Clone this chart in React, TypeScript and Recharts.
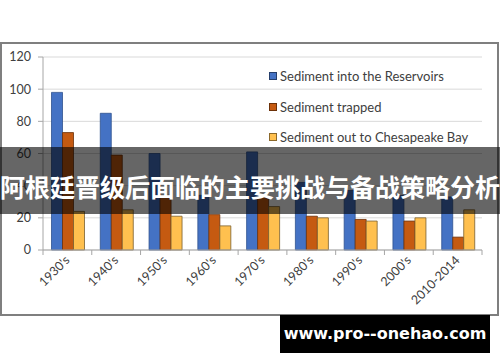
import React from 'react';
import { BarChart, Bar, XAxis, YAxis, CartesianGrid, Legend } from 'recharts';

const categories = ["1930's", "1940's", "1950's", "1960's", "1970's", "1980's", "1990's", "2000's", '2010-2014'];
const intoReservoirs = [98, 85, 60, 34, 61, 42, 37, 34, 33];
const trapped = [73, 59, 34, 22, 33, 21, 19, 18, 8];
const outToBay = [24, 25, 21, 15, 27, 20, 18, 20, 25];
const yTicks = [0, 20, 40, 60, 80, 100, 120];

const seriesNames = ['Sediment into the Reservoirs', 'Sediment trapped', 'Sediment out to Chesapeake Bay'];
const seriesColors = ['#4472C4', '#C55A11', '#FFC04F'];

const bannerText = '阿根廷晋级后面临的主要挑战与备战策略分析';
const watermarkText = 'www.pro--onehao.com';

const data = categories.map((c, i) => ({
    name: c,
    into: intoReservoirs[i],
    trapped: trapped[i],
    out: outToBay[i],
}));

const FONT = 'Lato, "Open Sans", sans-serif';
const AXIS = '#a6a6a6';
const TEXT = '#404040';
const PLOT_LEFT = 43;
const PLOT_RIGHT = 482;
const BAND = (PLOT_RIGHT - PLOT_LEFT) / categories.length;

// excel style: tick marks sit between categories, labels at -45deg
const XTick = (props: any) => {
    const { x, y, payload, index } = props;
    const half = BAND / 2;
    const tx = x + 3;
    const ty = y + 11;
    return (
        <g>
            <line x1={x - half} y1={y} x2={x - half} y2={y + 5} stroke={AXIS} />
            {index === categories.length - 1 && (
                <line x1={x + half} y1={y} x2={x + half} y2={y + 5} stroke={AXIS} />
            )}
            <text
                x={tx}
                y={ty}
                transform={`rotate(-45 ${tx} ${ty})`}
                textAnchor="end"
                fontSize={12.5}
                fontFamily={FONT}
                fill={TEXT}
            >
                {payload.value}
            </text>
        </g>
    );
};

const LegendBox = () => (
    <div style={{ fontFamily: FONT, fontSize: 13, color: TEXT }}>
        {seriesNames.map((n, i) => (
            <div key={n} style={{ height: 30.5, display: 'flex', alignItems: 'center' }}>
                <span style={{
                    display: 'inline-block',
                    width: 6,
                    height: 6,
                    background: seriesColors[i],
                    border: '1px solid rgba(0,0,0,0.45)',
                    marginRight: 3,
                }} />
                {n}
            </div>
        ))}
    </div>
);

export default function App() {
    return (
        <div style={{ position: 'absolute', left: 0, top: 0, width: 500, height: 362, background: '#fff', overflow: 'hidden' }}>
            <div style={{
                position: 'absolute', left: 0, top: 42, width: 499, height: 274,
                boxSizing: 'border-box', border: '2px solid #7f7f7f',
            }} />
            <div style={{ position: 'absolute', left: 0, top: 0 }}>
                <BarChart
                    width={500}
                    height={362}
                    data={data}
                    margin={{ top: 57, right: 18, left: 8, bottom: 52 }}
                    barCategoryGap={8.5}
                    barGap={0}
                >
                    <CartesianGrid vertical={false} stroke="#d9d9d9" />
                    <XAxis
                        dataKey="name"
                        height={60}
                        interval={0}
                        tickLine={false}
                        tickSize={0}
                        tickMargin={0}
                        axisLine={{ stroke: AXIS }}
                        tick={<XTick />}
                    />
                    <YAxis
                        width={35}
                        domain={[0, 120]}
                        ticks={yTicks}
                        interval={0}
                        tickSize={5}
                        tickMargin={7}
                        axisLine={{ stroke: AXIS }}
                        tickLine={{ stroke: AXIS }}
                        tick={{ fontSize: 12.5, fontFamily: FONT, fill: TEXT }}
                    />
                    <Legend
                        layout="vertical"
                        verticalAlign="middle"
                        align="center"
                        content={<LegendBox />}
                        wrapperStyle={{ top: 61, left: 269, width: 220 }}
                    />
                    <Bar dataKey="into" name={seriesNames[0]} fill={seriesColors[0]} stroke="#2F528F" strokeWidth={0.8} isAnimationActive={false} />
                    <Bar dataKey="trapped" name={seriesNames[1]} fill={seriesColors[1]} stroke="#6b300a" strokeWidth={0.8} isAnimationActive={false} />
                    <Bar dataKey="out" name={seriesNames[2]} fill={seriesColors[2]} stroke="#7a6030" strokeWidth={0.8} isAnimationActive={false} />
                </BarChart>
            </div>
            <div style={{
                position: 'absolute', left: 0, top: 147, width: 500, height: 67,
                background: 'rgba(0,0,0,0.6)',
            }} />
            <div style={{
                position: 'absolute', left: 0, top: 170, width: 500, height: 32, lineHeight: '32px',
                textAlign: 'center', whiteSpace: 'nowrap', color: '#fff', fontWeight: 700,
                fontSize: 25, fontFamily: '"Noto Sans CJK SC", sans-serif',
            }}>
                {bannerText}
            </div>
            <div style={{
                position: 'absolute', left: 280, top: 315, width: 210, height: 38, lineHeight: '38px',
                background: '#000', color: '#fff', textAlign: 'center', fontWeight: 700,
                fontSize: 16, fontFamily: '"DejaVu Sans", sans-serif',
            }}>
                {watermarkText}
            </div>
        </div>
    );
}
